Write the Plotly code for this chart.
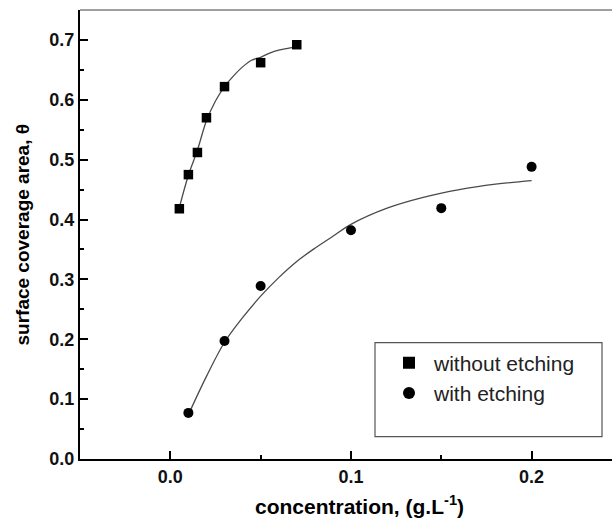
import plotly.graph_objects as go

# ---- data ----
sq_x = [0.005, 0.010, 0.015, 0.020, 0.030, 0.050, 0.070]
sq_y = [0.418, 0.475, 0.512, 0.570, 0.622, 0.662, 0.692]
ci_x = [0.010, 0.030, 0.050, 0.100, 0.150, 0.200]
ci_y = [0.077, 0.197, 0.289, 0.382, 0.419, 0.488]

fit1_x = [0.005, 0.010, 0.015, 0.020, 0.025, 0.030, 0.035, 0.040, 0.045, 0.050, 0.055, 0.060, 0.065, 0.070]
fit1_y = [0.420, 0.474, 0.516, 0.565, 0.598, 0.622, 0.640, 0.655, 0.666, 0.671, 0.678, 0.683, 0.686, 0.689]
fit2_x = [0.010, 0.020, 0.030, 0.040, 0.050, 0.060, 0.070, 0.080, 0.090, 0.100, 0.120, 0.140, 0.160, 0.180, 0.200]
fit2_y = [0.074, 0.138, 0.195, 0.236, 0.272, 0.303, 0.330, 0.352, 0.372, 0.392, 0.419, 0.437, 0.450, 0.459, 0.465]

x_ticks = [0.0, 0.1, 0.2]
x_ticklabels = ["0.0", "0.1", "0.2"]
y_ticks = [0.0, 0.1, 0.2, 0.3, 0.4, 0.5, 0.6, 0.7]
y_ticklabels = ["0.0", "0.1", "0.2", "0.3", "0.4", "0.5", "0.6", "0.7"]

names = ["without etching", "with etching"]
x_title = "concentration, (g.L<sup>-1</sup>)"
y_title = "surface coverage area, θ"

FONT = "Liberation Sans, Arial, sans-serif"

fig = go.Figure()
fig.add_trace(go.Scatter(x=fit1_x, y=fit1_y, mode="lines", line=dict(color="#4a4a4a", width=1.3, shape="spline"),
                         showlegend=False, hoverinfo="skip"))
fig.add_trace(go.Scatter(x=fit2_x, y=fit2_y, mode="lines", line=dict(color="#4a4a4a", width=1.3, shape="spline"),
                         showlegend=False, hoverinfo="skip"))
fig.add_trace(go.Scatter(x=sq_x, y=sq_y, mode="markers", name=names[0],
                         marker=dict(symbol="square", size=9.5, color="black")))
fig.add_trace(go.Scatter(x=ci_x, y=ci_y, mode="markers", name=names[1],
                         marker=dict(symbol="circle", size=10, color="black")))

axis_common = dict(showgrid=False, zeroline=False, showline=True, linecolor="black", linewidth=2,
                   ticks="inside", ticklen=8, tickwidth=2, tickcolor="black",
                   tickfont=dict(family=FONT, size=18, color="#111111", weight="bold"))

fig.update_xaxes(range=[-0.05, 0.2445], tickvals=x_ticks, ticktext=x_ticklabels,
                 minor=dict(dtick=0.05, tick0=0, ticks="inside", ticklen=4, tickwidth=2, tickcolor="black"),
                 **axis_common)
fig.update_yaxes(range=[0, 0.75], tickvals=y_ticks, ticktext=y_ticklabels,
                 minor=dict(dtick=0.05, tick0=0, ticks="inside", ticklen=4, tickwidth=2, tickcolor="black"),
                 **axis_common)

fig.update_layout(
    width=612, height=529,
    margin=dict(l=80, r=0, t=10, b=69.5),
    paper_bgcolor="white", plot_bgcolor="white",
    showlegend=True,
    legend=dict(x=(384 - 80) / 532, y=(459.5 - 343) / 449.5, xref="paper", yref="paper",
                xanchor="left", yanchor="top",
                font=dict(family=FONT, size=21, color="#222222"), bgcolor="rgba(0,0,0,0)",
                borderwidth=0, itemsizing="constant", itemwidth=40, tracegroupgap=0),
    shapes=[
        dict(type="line", xref="paper", yref="paper", x0=0, x1=1, y0=1, y1=1,
             line=dict(color="#808080", width=1.5)),
        dict(type="rect", xref="paper", yref="paper",
             x0=(375 - 80) / 532, x1=(602 - 80) / 532,
             y0=(459.5 - 437) / 449.5, y1=(459.5 - 343) / 449.5,
             line=dict(color="#555555", width=1.2), fillcolor="rgba(0,0,0,0)"),
    ],
    annotations=[
        dict(text=x_title, xref="paper", yref="paper", x=(359 - 80) / 532, y=(459.5 - 506) / 449.5,
             xanchor="center", yanchor="middle", showarrow=False,
             font=dict(family=FONT, size=21, color="black", weight="bold")),
        dict(text=y_title, xref="paper", yref="paper", x=(22 - 80) / 532, y=0.5,
             xanchor="center", yanchor="middle", showarrow=False, textangle=-90,
             font=dict(family=FONT, size=19, color="black", weight="bold")),
    ],
)

fig.write_html("out.html", config={"displayModeBar": False},
               post_script="document.body.style.margin='0';")
